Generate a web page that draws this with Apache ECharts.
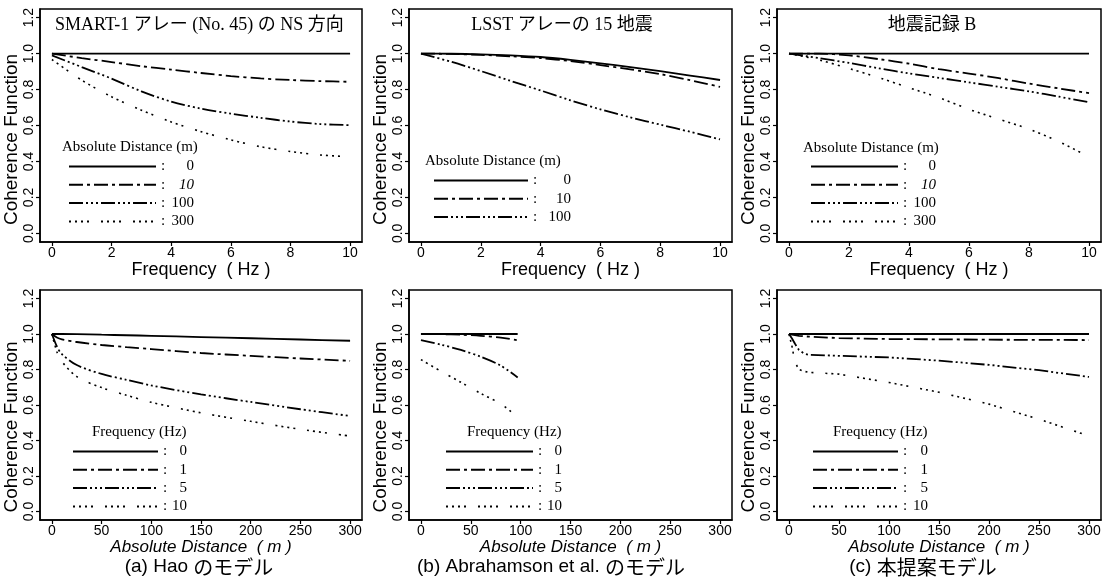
<!DOCTYPE html>
<html>
<head>
<meta charset="utf-8">
<title>Coherence Function</title>
<script src="https://cdn.jsdelivr.net/npm/echarts@6/dist/echarts.min.js"></script>
<style>
html, body { margin: 0; padding: 0; background: #fff; }
#coherenceChart { width: 1111px; height: 584px; }
</style>
</head>
<body>
<div id="coherenceChart"></div>
<script>
// ---- data ----
// upper row: coherence vs frequency (Hz)
var freqHz = [0, 1, 2, 3, 4, 5, 6, 7, 8, 9, 10];
var distLabels = ['0', '10', '100', '300'];

var smartD0   = [1, 1, 1, 1, 1, 1, 1, 1, 1, 1, 1];
var smartD10  = [1.0, 0.975, 0.953, 0.93, 0.911, 0.892, 0.875, 0.862, 0.853, 0.847, 0.843];
var smartD100 = [0.99, 0.925, 0.861, 0.79, 0.733, 0.694, 0.666, 0.643, 0.622, 0.608, 0.602];
var smartD300 = [0.967, 0.852, 0.76, 0.685, 0.62, 0.566, 0.52, 0.482, 0.455, 0.436, 0.426];

var lsstD0   = [1, 0.999, 0.996, 0.99, 0.981, 0.965, 0.946, 0.925, 0.902, 0.878, 0.853];
var lsstD10  = [1, 0.998, 0.993, 0.985, 0.975, 0.958, 0.936, 0.912, 0.886, 0.852, 0.815];
var lsstD100 = [1, 0.955, 0.903, 0.848, 0.795, 0.74, 0.69, 0.645, 0.605, 0.565, 0.523];

var recBD0   = [1, 1, 1, 1, 1, 1, 1, 1, 1, 1, 1];
var recBD10  = [1, 1, 0.99, 0.969, 0.944, 0.913, 0.889, 0.863, 0.833, 0.806, 0.78];
var recBD100 = [1, 0.975, 0.948, 0.918, 0.89, 0.865, 0.84, 0.815, 0.79, 0.76, 0.73];
var recBD300 = [1, 0.965, 0.917, 0.866, 0.81, 0.755, 0.69, 0.635, 0.58, 0.51, 0.425];

// lower row: coherence vs absolute distance (m)
var freqLabels = ['0', '1', '5', '10'];

var haoDist = [0, 5, 10, 25, 50, 75, 100, 150, 200, 250, 300];
var haoF0  = [1, 1, 1, 0.999, 0.996, 0.993, 0.99, 0.983, 0.976, 0.969, 0.962];
var haoF1  = [1, 0.98, 0.97, 0.955, 0.938, 0.926, 0.915, 0.893, 0.877, 0.862, 0.849];
var haoF5  = [1, 0.93, 0.887, 0.825, 0.775, 0.742, 0.71, 0.66, 0.617, 0.576, 0.538];
var haoF10 = [1, 0.9, 0.845, 0.76, 0.698, 0.655, 0.615, 0.556, 0.508, 0.463, 0.425];

var abrDist   = [0, 20, 40, 60, 80, 97];
var abrDist10 = [0, 20, 40, 60, 80, 92];
var abrF0  = [1, 1, 1, 1, 1, 1];
var abrF1  = [1, 0.999, 0.996, 0.99, 0.98, 0.965];
var abrF5  = [0.965, 0.94, 0.91, 0.872, 0.822, 0.755];
var abrF10 = [0.856, 0.79, 0.728, 0.665, 0.607, 0.555];

var newDist   = [0, 3, 6, 10, 15, 20, 50, 100, 150, 200, 250, 300];
var newDist10 = [0, 3, 6, 10, 15, 20, 50, 100, 150, 200, 250, 295];
var newF0  = [1, 1, 1, 1, 1, 1, 1, 1, 1, 1, 1, 1];
var newF1  = [1, 0.997, 0.994, 0.99, 0.987, 0.985, 0.977, 0.972, 0.97, 0.968, 0.967, 0.966];
var newF5  = [1, 0.975, 0.945, 0.91, 0.89, 0.883, 0.877, 0.868, 0.85, 0.826, 0.796, 0.758];
var newF10 = [1, 0.93, 0.84, 0.8, 0.79, 0.784, 0.774, 0.727, 0.672, 0.605, 0.52, 0.435];

var yTicks = [0, 0.2, 0.4, 0.6, 0.8, 1.0, 1.2];
var freqTicks = [0, 2, 4, 6, 8, 10];
var distTicks = [0, 50, 100, 150, 200, 250, 300];

// ---- styling ----
var SANS = "'Liberation Sans', Arial, 'Noto Sans CJK JP', sans-serif";
var SERIF = "'Liberation Serif', 'Times New Roman', 'Noto Sans CJK JP', serif";
var CJK = "'Noto Sans CJK JP', sans-serif";
var DASHES = ['solid', [14, 4, 3, 4], [14, 3, 2, 3, 2, 3, 2, 3], [2, 4, 2, 4, 2, 4, 2, 12]];

var pairs = function (xs, ys) {
    return xs.map(function (x, i) { return [x, ys[i]]; });
};

var panels = [
    { grid: { left: 40, top: 9, width: 322, height: 233 }, top: true,
      xs: [freqHz, freqHz, freqHz, freqHz], ys: [smartD0, smartD10, smartD100, smartD300],
      labels: distLabels, smooth: 0.3,
      legend: { left: 68, top: 159, w: 87, c: 6, n: 27, italic10: true } },
    { grid: { left: 409, top: 9, width: 323, height: 233 }, top: true,
      xs: [freqHz, freqHz, freqHz], ys: [lsstD0, lsstD10, lsstD100],
      labels: distLabels.slice(0, 3), smooth: 0.3,
      legend: { left: 433, top: 173, w: 94, c: 8, n: 30 } },
    { grid: { left: 777, top: 9, width: 324, height: 233 }, top: true,
      xs: [freqHz, freqHz, freqHz, freqHz], ys: [recBD0, recBD10, recBD100, recBD300],
      labels: distLabels, smooth: 0.3,
      legend: { left: 810, top: 159, w: 87, c: 6, n: 27, italic10: true } },
    { grid: { left: 40, top: 290, width: 322, height: 230 }, top: false,
      xs: [haoDist, haoDist, haoDist, haoDist], ys: [haoF0, haoF1, haoF5, haoF10],
      labels: freqLabels, smooth: 0.3,
      legend: { left: 72, top: 444, w: 85, c: 6, n: 18 } },
    { grid: { left: 409, top: 290, width: 323, height: 230 }, top: false,
      xs: [abrDist, abrDist, abrDist, abrDist10], ys: [abrF0, abrF1, abrF5, abrF10],
      labels: freqLabels, smooth: 0.3,
      legend: { left: 445, top: 444, w: 87, c: 6, n: 18 } },
    { grid: { left: 777, top: 290, width: 324, height: 230 }, top: false,
      xs: [newDist, newDist, newDist, newDist10], ys: [newF0, newF1, newF5, newF10],
      labels: freqLabels, smooth: false,
      legend: { left: 812, top: 444, w: 85, c: 6, n: 19 } }
];

var getOption = function () {
    var grid = [], xAxis = [], yAxis = [], series = [], legend = [];
    var title = [
        { text: 'SMART-1 アレー (No. 45) の NS 方向', left: 55, top: 16 },
        { text: 'LSST アレーの 15 地震', left: 562, top: 16, textAlign: 'center' },
        { text: '地震記録 B', left: 932, top: 16, textAlign: 'center' },
        { text: 'Absolute Distance (m)', left: 62, top: 140, fs: 15 },
        { text: 'Absolute Distance (m)', left: 425, top: 154, fs: 15 },
        { text: 'Absolute Distance (m)', left: 803, top: 141, fs: 15 },
        { text: 'Frequency (Hz)', left: 92, top: 425, fs: 15 },
        { text: 'Frequency (Hz)', left: 467, top: 425, fs: 15 },
        { text: 'Frequency (Hz)', left: 833, top: 425, fs: 15 },
        { text: '{l|(a) Hao }{j|のモデル}', left: 199, top: 557, textAlign: 'center', cap: true },
        { text: '{l|(b) Abrahamson et al. }{j|のモデル}', left: 551, top: 557, textAlign: 'center', cap: true },
        { text: '{l|(c) }{j|本提案モデル}', left: 923, top: 557, textAlign: 'center', cap: true }
    ].map(function (t) {
        return {
            text: t.text, left: t.left, top: t.top, textAlign: t.textAlign, padding: 0,
            textStyle: {
                fontFamily: t.cap ? SANS : SERIF, fontSize: t.fs || 18,
                fontWeight: 'normal', color: '#000',
                rich: {
                    l: { fontFamily: SANS, fontSize: 19, color: '#000' },
                    j: { fontFamily: CJK, fontSize: 20, color: '#000' }
                }
            }
        };
    });

    panels.forEach(function (p, i) {
        grid.push({
            left: p.grid.left, top: p.grid.top, width: p.grid.width, height: p.grid.height,
            show: true, borderColor: '#000', borderWidth: 1.5
        });
        var ticks = p.top ? freqTicks : distTicks;
        xAxis.push({
            type: 'value', gridIndex: i,
            min: p.top ? -0.4 : -12, max: p.top ? 10.4 : 312,
            axisLine: { show: true, onZero: false, lineStyle: { color: '#000', width: 1.5 } },
            axisTick: { show: true, length: 4, customValues: ticks, lineStyle: { color: '#000', width: 1.2 } },
            axisLabel: {
                customValues: ticks, color: '#000', fontSize: 14, fontFamily: SANS, margin: 4,
                formatter: function (v) { return String(v); }
            },
            splitLine: { show: false },
            name: p.top ? 'Frequency  ( Hz )' : 'Absolute Distance  ( m )',
            nameLocation: 'middle', nameGap: 19,
            nameTextStyle: {
                color: '#000', fontSize: p.top ? 18 : 17, fontFamily: SANS,
                fontStyle: p.top ? 'normal' : 'italic'
            }
        });
        yAxis.push({
            type: 'value', gridIndex: i, min: -0.048, max: 1.248,
            axisLine: { show: true, onZero: false, lineStyle: { color: '#000', width: 1.5 } },
            axisTick: { show: true, length: 4, customValues: yTicks, lineStyle: { color: '#000', width: 1.2 } },
            axisLabel: {
                customValues: yTicks, rotate: 90, color: '#000', fontSize: 14, fontFamily: SANS, margin: 4,
                formatter: function (v) { return v.toFixed(1); }
            },
            splitLine: { show: false },
            name: 'Coherence Function', nameLocation: 'middle', nameGap: 18,
            nameTextStyle: {
                color: '#000', fontSize: 19, fontFamily: SANS,
                padding: p.top ? [0, 28, 0, 0] : [0, 44, 0, 0]
            }
        });

        var names = [];
        p.ys.forEach(function (ys, k) {
            var name = 'p' + i + '|' + p.labels[k];
            names.push(name);
            series.push({
                name: name, type: 'line', xAxisIndex: i, yAxisIndex: i,
                symbol: 'none', showSymbol: false, smooth: p.smooth,
                lineStyle: { color: '#000', width: k === 3 ? 1.6 : 1.8, type: DASHES[k] },
                itemStyle: { color: '#000' },
                data: pairs(p.xs[k], ys)
            });
        });

        var lg = p.legend;
        legend.push({
            data: names, orient: 'vertical', left: lg.left, top: lg.top, padding: 0,
            itemWidth: lg.w, itemHeight: 14, itemGap: 3.3, selectedMode: false,
            lineStyle: { color: '#000', width: 2 },
            itemStyle: { opacity: 0 },
            textStyle: {
                fontFamily: SERIF, fontSize: 15, color: '#000', lineHeight: 14,
                rich: {
                    c: { width: lg.c, fontFamily: SERIF, fontSize: 15, color: '#000' },
                    n: { width: lg.n, align: 'right', fontFamily: SERIF, fontSize: 15, color: '#000' },
                    ni: { width: lg.n, align: 'right', fontFamily: SERIF, fontSize: 15, color: '#000', fontStyle: 'italic' }
                }
            },
            formatter: function (name) {
                var v = name.split('|')[1];
                var st = (lg.italic10 && v === '10') ? 'ni' : 'n';
                return '{c|:}{' + st + '|' + v + '}';
            }
        });
    });

    return {
        backgroundColor: '#fff',
        animation: false,
        title: title,
        legend: legend,
        grid: grid,
        xAxis: xAxis,
        yAxis: yAxis,
        series: series
    };
};

var myChart = echarts.init(document.getElementById('coherenceChart'));
myChart.setOption(getOption());
window.onresize = myChart.resize;
</script>
</body>
</html>
